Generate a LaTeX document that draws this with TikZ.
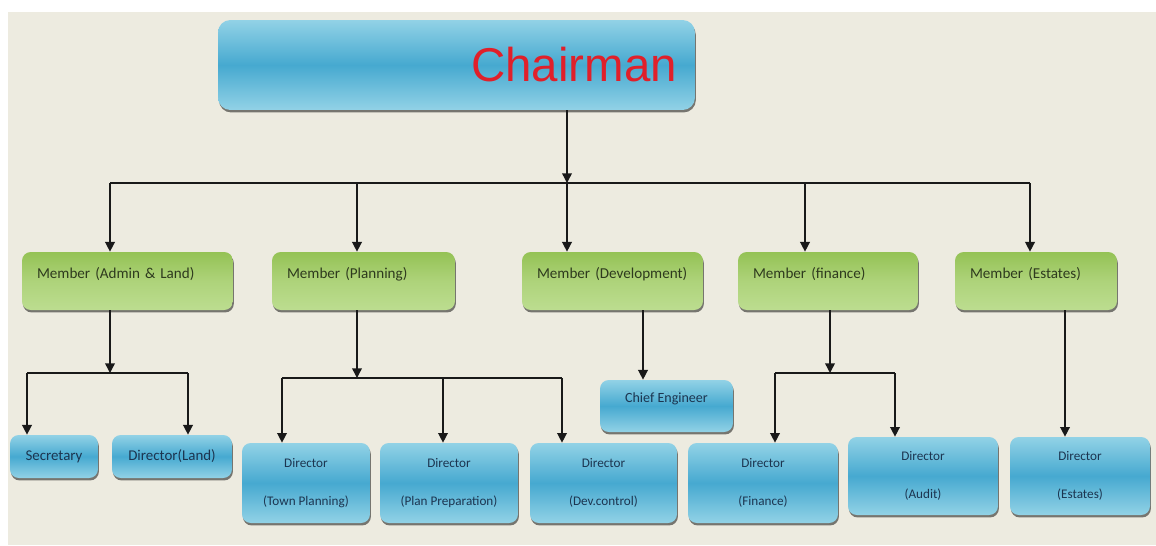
\documentclass[tikz,border=0pt]{standalone}
\usepackage{fontspec}
\setmainfont{Carlito}
\newfontfamily\chairfont{Liberation Sans}
\usetikzlibrary{arrows.meta,shadows}

\definecolor{paper}{HTML}{EDEBE0}
\definecolor{blueMid}{HTML}{46A9D0}
\definecolor{blueLight}{HTML}{92D2E6}
\definecolor{greenTop}{HTML}{94C255}
\definecolor{greenMid}{HTML}{AED37A}
\definecolor{greenBot}{HTML}{BCDD90}
\definecolor{chairRed}{HTML}{E0202A}
\definecolor{blueText}{HTML}{1C3550}
\definecolor{greenText}{HTML}{2E3A1E}

\begin{document}
\begin{tikzpicture}[
        x=0.02cm, y=-0.02cm,
        orgbox/.style={rounded corners=5pt,
            drop shadow={shadow xshift=0.5pt, shadow yshift=-1.4pt, fill=black, opacity=0.5}},
        blue_box/.style={orgbox, top color=blueLight, bottom color=blueLight, middle color=blueMid, text=blueText},
        chair_box/.style={blue_box, rounded corners=7pt, minimum width=9.54cm, minimum height=1.8cm,
            text=chairRed, font=\chairfont\fontsize{27}{30}\selectfont},
        member_box/.style={orgbox, top color=greenTop, bottom color=greenBot, middle color=greenMid,
            text=greenText, font=\fontsize{8.6}{10}\selectfont, align=left, inner xsep=3mm,
            text width=#1, minimum height=1.16cm, text height=2.4mm, text depth=3.6mm},
        small_box/.style={blue_box, font=\fontsize{8.5}{10}\selectfont, minimum height=0.86cm, minimum width=#1},
        chief_box/.style={blue_box, font=\fontsize{8}{10}\selectfont, minimum height=1.04cm, minimum width=#1,
            text height=2.2mm, text depth=3.8mm},
        dir_box/.style={blue_box, font=\fontsize{7.5}{9}\selectfont, align=center, minimum width=#1},
        link/.style={draw=black!90, line width=0.8pt},
        arr/.style={link, -{Triangle[width=5.5pt,length=5.5pt]}},
    ]

    \useasboundingbox (0,0) rectangle (1156,545);

    % Page background
    \fill[white] (0,0) rectangle (1156,545);
    \fill[paper] (8,12) rectangle (1156,545);

    % Top box
    \node[chair_box] (chair) at (456.5,65) {\hspace*{4.7cm}Chairman};

    % Members
    \node[member_box=3.62cm] (admin) at (127.5,281) {Member (Admin \& Land)};
    \node[member_box=3.06cm] (plan)  at (363.5,281) {Member (Planning)};
    \node[member_box=3.02cm] (dev)   at (612.5,281) {Member (Development)};
    \node[member_box=3.00cm] (fin)   at (828,281)   {Member (finance)};
    \node[member_box=2.64cm] (est)   at (1036,281)  {Member (Estates)};

    % Directors and officers
    \node[small_box=1.76cm] (sec)   at (54,456.5)  {Secretary};
    \node[small_box=2.40cm] (dland) at (172,456.5) {Director(Land)};
    \node[dir_box=2.56cm, minimum height=1.6cm] (dtp)  at (306,483)   {Director\\[13pt](Town Planning)};
    \node[dir_box=2.76cm, minimum height=1.6cm] (dpp)  at (449,483)   {Director\\[13pt](Plan Preparation)};
    \node[dir_box=2.94cm, minimum height=1.6cm] (ddc)  at (603.5,483) {Director\\[13pt](Dev.control)};
    \node[chief_box=2.66cm] (ce) at (666.5,406) {Chief Engineer};
    \node[dir_box=3.00cm, minimum height=1.6cm]  (dfin) at (763,483) {Director\\[13pt](Finance)};
    \node[dir_box=3.00cm, minimum height=1.56cm] (daud) at (923,476) {Director\\[13pt](Audit)};
    \node[dir_box=2.80cm, minimum height=1.56cm] (dest) at (1080,476) {Director\\[13pt](Estates)};

    % Chairman to members
    \coordinate (cjoin) at (567,183);
    \coordinate (b-admin) at (110,183);
    \coordinate (b-plan)  at (357,183);
    \coordinate (b-dev)   at (567,183);
    \coordinate (b-fin)   at (805,183);
    \coordinate (b-est)   at (1030,183);
    \draw[arr] (chair.south -| cjoin) -- (cjoin);
    \draw[link] (b-admin) -- (b-est);
    \foreach \m in {admin,plan,dev,fin,est} {
        \draw[arr] (b-\m) -- (b-\m |- \m.north);
    }

    % Admin & Land
    \coordinate (ajoin) at (110,373);
    \coordinate (a-sec) at (27,373);
    \coordinate (a-land) at (188,373);
    \draw[arr] (admin.south -| ajoin) -- (ajoin);
    \draw[link] (a-sec) -- (a-land);
    \draw[arr] (a-sec) -- (a-sec |- sec.north);
    \draw[arr] (a-land) -- (a-land |- dland.north);

    % Planning
    \coordinate (pjoin) at (357,378);
    \coordinate (p-tp) at (282,378);
    \coordinate (p-pp) at (443,378);
    \coordinate (p-dc) at (562,378);
    \draw[arr] (plan.south -| pjoin) -- (pjoin);
    \draw[link] (p-tp) -- (p-dc);
    \draw[arr] (p-tp) -- (p-tp |- dtp.north);
    \draw[arr] (p-pp) -- (p-pp |- dpp.north);
    \draw[arr] (p-dc) -- (p-dc |- ddc.north);

    % Development
    \coordinate (djoin) at (643,310);
    \draw[arr] (dev.south -| djoin) -- (djoin |- ce.north);

    % Finance
    \coordinate (fjoin) at (830,373);
    \coordinate (f-fin) at (775,373);
    \coordinate (f-aud) at (895,373);
    \draw[arr] (fin.south -| fjoin) -- (fjoin);
    \draw[link] (f-fin) -- (f-aud);
    \draw[arr] (f-fin) -- (f-fin |- dfin.north);
    \draw[arr] (f-aud) -- (f-aud |- daud.north);

    % Estates
    \coordinate (ejoin) at (1065,310);
    \draw[arr] (est.south -| ejoin) -- (ejoin |- dest.north);

\end{tikzpicture}
\end{document}
